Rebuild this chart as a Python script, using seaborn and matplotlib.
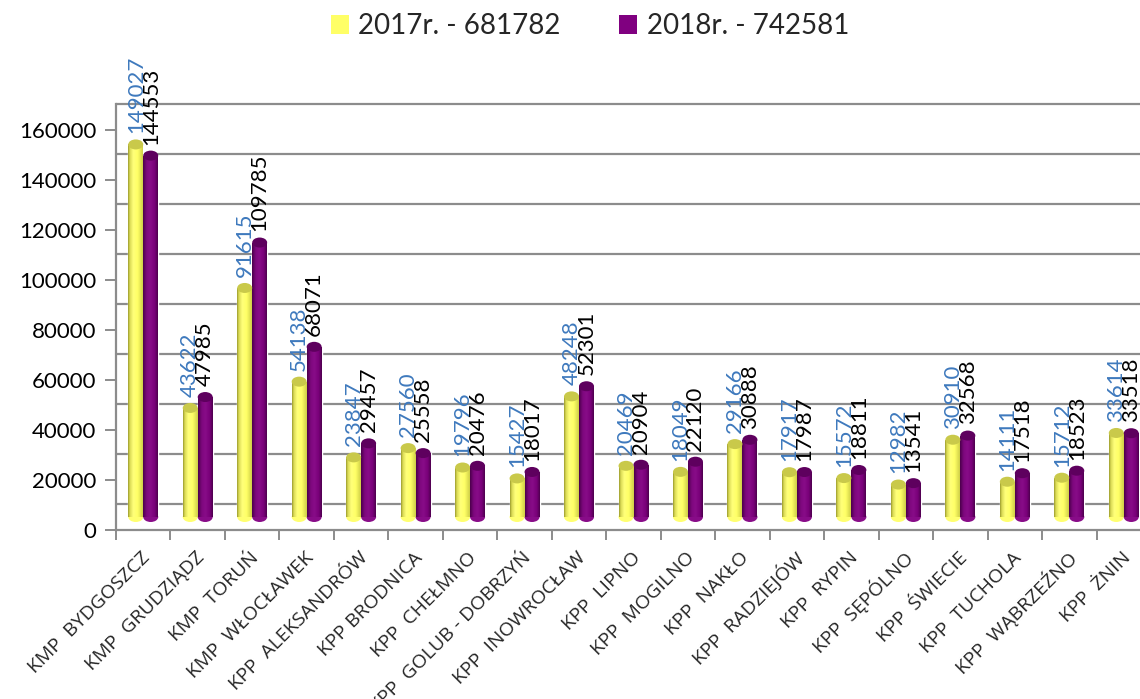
import numpy as np
import pandas as pd
import matplotlib
matplotlib.use("Agg")
import matplotlib.pyplot as plt
import seaborn as sns
from matplotlib.transforms import ScaledTranslation
from matplotlib.patches import Patch, Ellipse
from matplotlib.colors import LinearSegmentedColormap

# ---------------- data ----------------
units = ["KMP  BYDGOSZCZ", "KMP  GRUDZIĄDZ", "KMP  TORUŃ", "KMP  WŁOCŁAWEK",
         "KPP  ALEKSANDRÓW", "KPP BRODNICA", "KPP  CHEŁMNO", "KPP  GOLUB - DOBRZYŃ",
         "KPP  INOWROCŁAW", "KPP  LIPNO", "KPP  MOGILNO", "KPP  NAKŁO",
         "KPP  RADZIEJÓW", "KPP  RYPIN", "KPP  SĘPÓLNO", "KPP  ŚWIECIE",
         "KPP  TUCHOLA", "KPP  WĄBRZEŹNO", "KPP  ŻNIN"]
v2017 = [149027, 43622, 91615, 54138, 23847, 27560, 19796, 15427, 48248, 20469,
         18049, 29166, 17917, 15572, 12982, 30910, 14111, 15712, 33614]
v2018 = [144553, 47985, 109785, 68071, 29457, 25558, 20476, 18017, 52301, 20904,
         22120, 30888, 17987, 18811, 13541, 32568, 17518, 18523, 33518]
series = ["2017r. - 681782", "2018r. - 742581"]
yticks = [0, 20000, 40000, 60000, 80000, 100000, 120000, 140000, 160000]

# ---------------- style ----------------
W, H, DPI = 1140, 699, 100
YELLOW, PURPLE = "#FFFF66", "#800080"
CAPS = ["#C9C94A", "#5E005E"]
BLUE_TXT = "#3E79BD"
GRID = "#8C8C8C"
NUM_FONT = ["Lato", "DejaVu Sans"]
CAT_FONT = ["Open Sans", "DejaVu Sans"]

sns.set_theme(style="white")
plt.rcParams["font.family"] = NUM_FONT

df = pd.DataFrame({
    "unit": units * 2,
    "year": [series[0]] * len(units) + [series[1]] * len(units),
    "value": v2017 + v2018,
})

fig = plt.figure(figsize=(W / DPI, H / DPI), dpi=DPI)
# plot area in pixels: left 116, right 1151, bottom(front floor) 530, top(back wall) 104
ax = fig.add_axes([116 / W, (H - 530) / H, (1151 - 116) / W, (530 - 104) / H])

sns.barplot(data=df, x="unit", y="value", hue="year", order=units,
            palette=[YELLOW, PURPLE], width=0.55, saturation=1,
            legend=False, ax=ax, zorder=3)

px = 1.0 / DPI
depth = 13 * px  # 3D depth offset, inches
YLIM = (-5200, 165200)
ax.set_xlim(-0.5, len(units) - 0.5)
ax.set_ylim(*YLIM)
ax.set_yticks(yticks)
ax.set_yticklabels([str(v) for v in yticks])
ax.set_xlabel("")
ax.set_ylabel("")

# cylinder-like shading on bars
cmaps = [
    LinearSegmentedColormap.from_list("y", [(0, "#9C9C2E"), (0.12, "#DADA55"),
                                            (0.35, "#FFFF7A"), (0.65, "#FFFF66"),
                                            (1, "#CFCF48")]),
    LinearSegmentedColormap.from_list("p", [(0, "#4C004C"), (0.25, "#7E087E"),
                                            (0.5, "#880C88"), (0.8, "#780078"),
                                            (1, "#4E004E")]),
]
grad = np.linspace(0, 1, 64).reshape(1, -1)
cap_h = 10 * (YLIM[1] - YLIM[0]) / 426.0  # ~10 px tall caps, in data units
for cont, cmap, capc in zip(ax.containers, cmaps, CAPS):
    for p in cont:
        x0, w = p.get_x(), p.get_width()
        y0, h = p.get_y(), p.get_height()
        im = ax.imshow(grad, cmap=cmap, extent=[x0, x0 + w, y0, y0 + h],
                       aspect="auto", zorder=3.5, interpolation="bilinear")
        im.set_clip_path(p)
        # rounded bottom and top cap
        ax.add_patch(Ellipse((x0 + w / 2, y0), w, cap_h, facecolor=cmap(0.5),
                             edgecolor="none", zorder=3.4))
        ax.add_patch(Ellipse((x0 + w / 2, y0 + h), w, cap_h, facecolor=capc,
                             edgecolor="none", zorder=3.6))
ax.set_xlim(-0.5, len(units) - 0.5)
ax.set_ylim(*YLIM)

# value labels
for cont, vals, col in zip(ax.containers, [v2017, v2018], [BLUE_TXT, "black"]):
    ax.bar_label(cont, labels=[str(v) for v in vals], padding=8, rotation=90,
                 color=col, fontsize=16, family=NUM_FONT, zorder=5)

# back-wall gridlines (shifted up by the 3D depth)
up = ScaledTranslation(0, depth, fig.dpi_scale_trans)
for v in yticks:
    ax.plot([0, 1], [v, v], transform=ax.get_yaxis_transform() + up,
            color=GRID, lw=1.6, zorder=1, clip_on=False)
ax.grid(False)

# spines
for s in ["top", "right"]:
    ax.spines[s].set_visible(False)
for s in ["left", "bottom"]:
    ax.spines[s].set_color(GRID)
    ax.spines[s].set_linewidth(1.6)

# y ticks on the front edge (shifted down by the 3D depth)
down = ScaledTranslation(0, -depth, fig.dpi_scale_trans)
ax.tick_params(axis="y", length=8, width=1.4, color=GRID, labelsize=16,
               pad=6, left=True, labelcolor="black")
for t in ax.yaxis.get_major_ticks():
    t.tick1line.set_transform(t.tick1line.get_transform() + down)
    t.label1.set_transform(t.label1.get_transform() + down)
    t.label1.set_fontfamily(NUM_FONT)

# x ticks: marks at category boundaries, labels at centres
ax.set_xticks(np.arange(-0.5, len(units), 1.0), minor=True)
ax.tick_params(axis="x", which="minor", length=7, width=1.4, color=GRID, bottom=True)
ax.tick_params(axis="x", which="major", length=0, pad=18)
right = ScaledTranslation(4 * px, 0, fig.dpi_scale_trans)
for lab in ax.get_xticklabels():
    lab.set_rotation(45)
    lab.set_ha("right")
    lab.set_va("center")
    lab.set_rotation_mode("anchor")
    lab.set_fontsize(14)
    lab.set_fontfamily(CAT_FONT)
    lab.set_transform(lab.get_transform() + right)

# legend
handles = [Patch(facecolor=YELLOW, edgecolor="none"),
           Patch(facecolor=PURPLE, edgecolor="none")]
fig.legend(handles, series, loc="upper center", bbox_to_anchor=(0.5175, 1.005),
           ncol=2, frameon=False, prop={"family": NUM_FONT, "size": 20},
           handlelength=0.65, handleheight=0.65, handletextpad=0.35,
           columnspacing=2.1, borderaxespad=0.2)

fig.savefig("out.png", dpi=DPI)
